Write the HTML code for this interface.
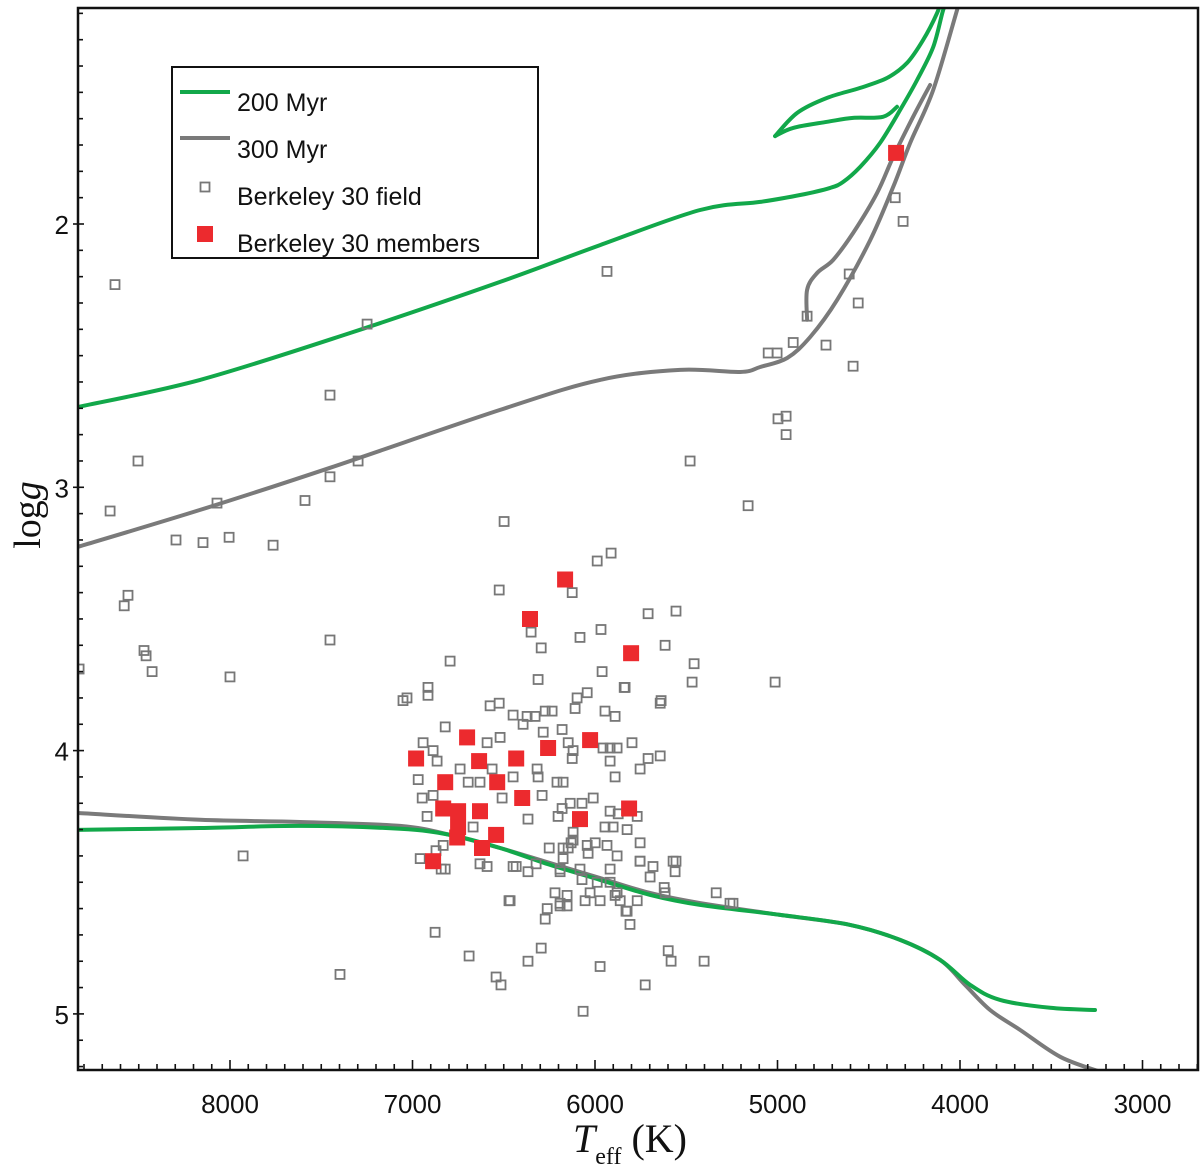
<!DOCTYPE html>
<html><head><meta charset="utf-8"><style>
html,body{margin:0;padding:0;background:#fff;}
svg{display:block;}
</style></head><body>
<svg id="chart" width="1200" height="1172" viewBox="0 0 1200 1172" xmlns="http://www.w3.org/2000/svg"></svg>
<script>
// ---- data ----
const xTicks = [8000, 7000, 6000, 5000, 4000, 3000];
const yTicks = [2, 3, 4, 5];
const fieldT = [8630,5934,7249,7452,8504,7298,7452,8657,8071,7589,8296,8148,8005,7764,8559,8580,8471,8460,8427,7452,8000,8827,7928,7397,
6498,5912,5988,6525,6125,6350,6082,5967,5709,5616,5556,5457,5468,5638,5961,5840,6312,6295,7030,6915,6915,6794,
4607,4558,4838,5051,5002,4914,4734,4586,4997,4953,4953,5479,5161,5013,4355,4312,
6876,6690,6542,6515,6065,5972,5599,5583,5402,5725,5808,6295,6367,6273,6191,5972,6027,5879,5830,6471,
6871,6843,6591,6432,6323,6251,6131,5999,6191,6082,5917,5753,5556,5698,5621,5336,5260,5244,6219,6153,
7052,6575,6525,6449,6372,6328,6273,6235,6098,6043,6109,5945,5890,5835,5643,6821,6394,6284,6180,6942,6887,6865,6520,6591,6147,6120,6125,5956,5917,5879,5917,5797,5709,5643,5753,
6739,6564,6317,6312,6449,6969,6695,6630,6208,6175,5890,6947,6887,6509,6290,6136,6071,6010,6180,6202,5917,5873,5769,6920,6367,5945,5901,5824,6120,6832,6668,
6958,6821,6630,6449,6367,6191,6120,6147,6175,6043,5934,6038,5879,5753,5753,5682,5572,5561,6071,6175,6191,6153,6262,6465,6054,5890,5862,5769,5824,5988,5917,5616];
const fieldG = [2.23,2.18,2.38,2.65,2.90,2.90,2.96,3.09,3.06,3.05,3.20,3.21,3.19,3.22,3.41,3.45,3.62,3.64,3.70,3.58,3.72,3.69,4.40,4.85,
3.13,3.25,3.28,3.39,3.40,3.55,3.57,3.54,3.48,3.60,3.47,3.67,3.74,3.81,3.70,3.76,3.73,3.61,3.80,3.76,3.79,3.66,
2.19,2.30,2.35,2.49,2.49,2.45,2.46,2.54,2.74,2.73,2.80,2.90,3.07,3.74,1.90,1.99,
4.69,4.78,4.86,4.89,4.99,4.82,4.76,4.80,4.80,4.89,4.66,4.75,4.80,4.64,4.59,4.57,4.54,4.54,4.61,4.57,
4.38,4.45,4.44,4.44,4.43,4.37,4.35,4.35,4.45,4.45,4.45,4.42,4.42,4.48,4.52,4.54,4.58,4.58,4.54,4.55,
3.81,3.83,3.82,3.865,3.87,3.87,3.85,3.85,3.80,3.78,3.84,3.85,3.87,3.76,3.82,3.91,3.90,3.93,3.92,3.97,4.00,4.04,3.95,3.97,3.97,4.00,4.03,3.99,3.99,3.99,4.04,3.97,4.03,4.02,4.07,
4.07,4.07,4.07,4.10,4.10,4.11,4.12,4.12,4.12,4.12,4.10,4.18,4.17,4.18,4.17,4.20,4.20,4.18,4.22,4.25,4.23,4.24,4.25,4.25,4.26,4.29,4.29,4.30,4.31,4.36,4.29,
4.41,4.45,4.43,4.44,4.46,4.46,4.34,4.37,4.37,4.36,4.36,4.39,4.40,4.35,4.42,4.44,4.42,4.46,4.49,4.41,4.58,4.59,4.60,4.57,4.57,4.55,4.57,4.57,4.61,4.50,4.50,4.54];
const memberT = [6701,6980,6257,6027,6635,6432,6821,6536,6399,6832,6750,6630,6750,6755,6542,6619,6887,6082,5813,6356,6164,5802,4350];
const memberG = [3.95,4.03,3.99,3.96,4.04,4.03,4.12,4.12,4.18,4.22,4.23,4.23,4.29,4.33,4.32,4.37,4.42,4.26,4.22,3.50,3.35,3.63,1.73];
// 200 Myr isochrone
const iso200UpperT = [8833,8164,7342,6520,5972,5424,5095,4876,4712,4640,4547,4438,4328,4235,4147,4092,4065];
const iso200UpperG = [2.695,2.592,2.414,2.220,2.080,1.947,1.916,1.890,1.863,1.840,1.783,1.692,1.567,1.453,1.328,1.187,1.149];
const iso200LoopAT = [5013,4914,4728,4586,4422,4345];
const iso200LoopAG = [1.666,1.635,1.612,1.597,1.593,1.555];
const iso200LoopBT = [5013,4892,4728,4547,4399,4290,4202,4125,4103];
const iso200LoopBG = [1.666,1.578,1.521,1.483,1.445,1.388,1.301,1.198,1.149];
const iso200LowerT = [8833,8164,7616,7068,6794,6520,6246,5972,5698,5424,4986,4602,4328,4109,3944,3780,3506,3260];
const iso200LowerG = [4.301,4.294,4.286,4.297,4.320,4.370,4.434,4.491,4.548,4.586,4.624,4.662,4.719,4.795,4.890,4.947,4.977,4.985];
// 300 Myr isochrone
const iso300UpperT = [8833,8164,7452,6520,5972,5534,5205,5095,4947,4821,4673,4492,4366,4273,4147,4016,4000];
const iso300UpperG = [3.226,3.086,2.926,2.706,2.592,2.554,2.562,2.543,2.509,2.429,2.288,2.061,1.859,1.692,1.491,1.187,1.149];
const iso300InnerT = [4838,4838,4783,4696,4586,4454,4366,4257,4164];
const iso300InnerG = [2.364,2.250,2.186,2.137,2.034,1.882,1.745,1.593,1.472];
const iso300LowerT = [8833,8164,7616,7068,6794,6520,6246,5972,5698,5424,4986,4602,4328,4109,3972,3835,3670,3451,3232];
const iso300LowerG = [4.237,4.263,4.271,4.286,4.320,4.370,4.427,4.484,4.541,4.579,4.624,4.662,4.719,4.795,4.890,4.985,5.061,5.163,5.22];

// ---- scales ----
const L = 78, R = 1198, T0 = 8, B = 1070;
function sx(t){ return 230 + (8000 - t) * 0.1825; }
function sy(g){ return 224 + (g - 2) * 263.3; }
const NS = 'http://www.w3.org/2000/svg';
const svg = document.getElementById('chart');
function mk(tag, attrs, parent){ const e = document.createElementNS(NS, tag); for (const k in attrs) e.setAttribute(k, attrs[k]); (parent||svg).appendChild(e); return e; }

const defs = mk('defs', {});
const cp = mk('clipPath', {id:'plotclip'}, defs);
mk('rect', {x:L, y:T0, width:R-L, height:B-T0}, cp);
const plot = mk('g', {'clip-path':'url(#plotclip)'});



function smoothPath(pts){
  let d = 'M' + pts[0][0].toFixed(1) + ',' + pts[0][1].toFixed(1);
  for (let i = 0; i < pts.length - 1; i++){
    const p0 = pts[Math.max(0,i-1)], p1 = pts[i], p2 = pts[i+1], p3 = pts[Math.min(pts.length-1,i+2)];
    const c1x = p1[0] + (p2[0]-p0[0])/6, c1y = p1[1] + (p2[1]-p0[1])/6;
    const c2x = p2[0] - (p3[0]-p1[0])/6, c2y = p2[1] - (p3[1]-p1[1])/6;
    d += ' C' + c1x.toFixed(1)+','+c1y.toFixed(1)+' '+c2x.toFixed(1)+','+c2y.toFixed(1)+' '+p2[0].toFixed(1)+','+p2[1].toFixed(1);
  }
  return d;
}
function line(ts, gs, color, name){
  const pts = ts.map((t,i)=>[sx(t), sy(gs[i])]);
  const p = mk('path', {d:smoothPath(pts), fill:'none', stroke:color, 'stroke-width':4, 'stroke-linejoin':'round', 'stroke-linecap':'round'}, plot);
  
  
}
const GREEN = '#12a84a', GRAY = '#7a7a7a';
line(iso300UpperT, iso300UpperG, GRAY, 'isochrone-300myr-upper');
line(iso300InnerT, iso300InnerG, GRAY, 'isochrone-300myr-giant-loop');
line(iso300LowerT, iso300LowerG, GRAY, 'isochrone-300myr-main-sequence');
line(iso200UpperT, iso200UpperG, GREEN, 'isochrone-200myr-upper');
line(iso200LoopAT, iso200LoopAG, GREEN, 'isochrone-200myr-loop-a');
line(iso200LoopBT, iso200LoopBG, GREEN, 'isochrone-200myr-loop-b');
line(iso200LowerT, iso200LowerG, GREEN, 'isochrone-200myr-main-sequence');

fieldT.forEach((t,i)=>{
  const r = mk('rect', {x:(sx(t)-4.5).toFixed(1), y:(sy(fieldG[i])-4.5).toFixed(1), width:9, height:9, fill:'none', stroke:'#777', 'stroke-width':1.8}, plot);
  
  
});
memberT.forEach((t,i)=>{
  const r = mk('rect', {x:(sx(t)-8).toFixed(1), y:(sy(memberG[i])-8).toFixed(1), width:16, height:16, fill:'#ec2a2e'}, plot);
  
  
});

// ---- axes ----
const ax = mk('g', {stroke:'#111', 'stroke-width':1.6});


for (let t = 8800; t >= 2700; t -= 100){
  const x = sx(t); if (x < L || x > R) continue;
  const major = t % 1000 === 0;
  mk('line', {x1:x, x2:x, y1:B, y2:B-(major?10:6)}, ax);
}
for (let g = 1.2; g <= 5.21; g += 0.1){
  const y = sy(g); if (y < T0) continue;
  const major = Math.abs(g - Math.round(g)) < 0.01;
  mk('line', {x1:major?L-5:L, x2:L+(major?6:5), y1:y, y2:y}, ax);
}
const frame = mk('rect', {x:L, y:T0, width:R-L, height:B-T0, fill:'none', stroke:'#111', 'stroke-width':2.5});



xTicks.forEach(t=>{
  const e = mk('text', {x:sx(t), y:1113, 'text-anchor':'middle', 'font-family':'Liberation Sans, sans-serif', 'font-size':26, fill:'#111'});
  e.textContent = t;
  
  
});
yTicks.forEach(g=>{
  const e = mk('text', {x:69, y:sy(g)+10, 'text-anchor':'end', 'font-family':'Liberation Sans, sans-serif', 'font-size':26, fill:'#111'});
  e.textContent = g;
  
  
});
</script>
<svg style="position:absolute;left:0;top:0" width="1200" height="1172" xmlns="http://www.w3.org/2000/svg">
  <text transform="translate(40,515) rotate(-90)" text-anchor="middle" font-family="Liberation Serif, serif" font-size="38" fill="#111">log<tspan font-style="italic">g</tspan></text>
  <text x="630" y="1152" text-anchor="middle" font-family="Liberation Serif, serif" font-size="40" fill="#111"><tspan font-style="italic">T</tspan><tspan font-size="24" dy="12">eff</tspan><tspan dy="-12"> (K)</tspan></text>
  <g>
    <rect x="172" y="67" width="366" height="191" fill="#fff" stroke="#111" stroke-width="2"/>
    <line x1="180" y1="92" x2="230" y2="92" stroke="#12a84a" stroke-width="4"/>
    <text x="237" y="111" font-family="Liberation Sans, sans-serif" font-size="25" fill="#111">200 Myr</text>
    <line x1="180" y1="138" x2="230" y2="138" stroke="#7a7a7a" stroke-width="4"/>
    <text x="237" y="158" font-family="Liberation Sans, sans-serif" font-size="25" fill="#111">300 Myr</text>
    <rect x="200.5" y="182.5" width="9" height="9" fill="none" stroke="#777" stroke-width="1.8"/>
    <text x="237" y="205" font-family="Liberation Sans, sans-serif" font-size="25" fill="#111">Berkeley 30 field</text>
    <rect x="197" y="226" width="16" height="16" fill="#ec2a2e"/>
    <text x="237" y="252" font-family="Liberation Sans, sans-serif" font-size="25" fill="#111">Berkeley 30 members</text>
  </g>
</svg>
</body></html>
